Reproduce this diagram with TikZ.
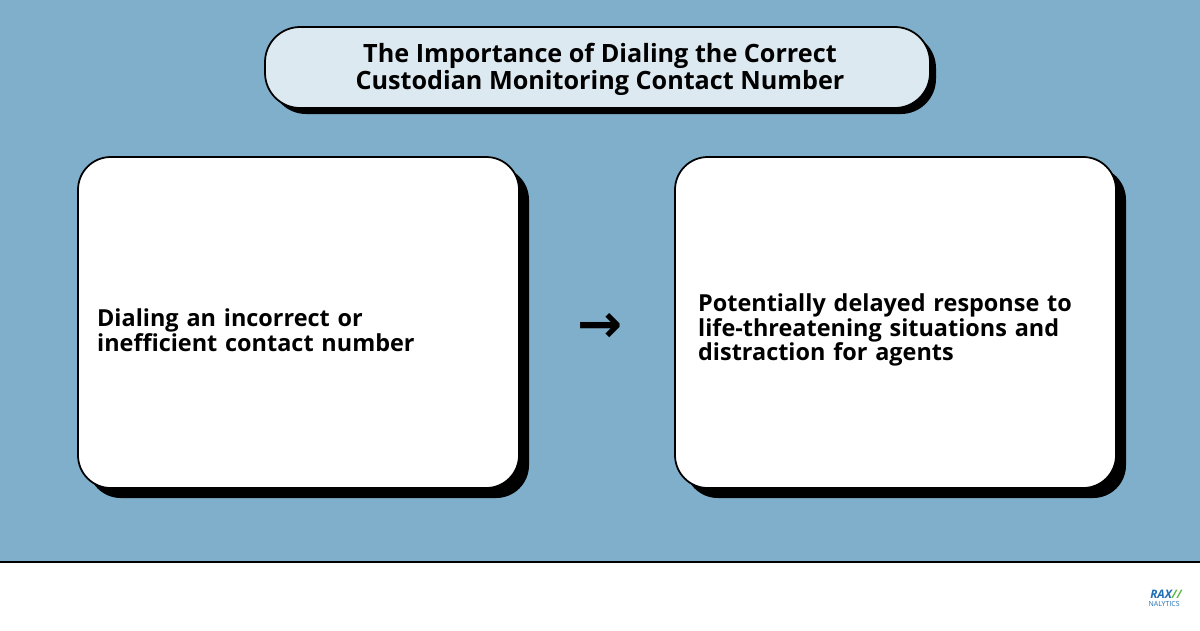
\documentclass[tikz,border=0pt]{standalone}
\usepackage{fontspec}
\setmainfont{Open Sans}
\newfontfamily\symfont{DejaVu Sans}
\usetikzlibrary{positioning}
\definecolor{skyblue}{HTML}{80AFCB}
\definecolor{paleblue}{HTML}{DCE9F0}
\definecolor{raxblue}{HTML}{1F6FB5}
\definecolor{raxgreen}{HTML}{5DB847}
\tikzset{
  card/.style={draw=black, line width=1.5pt, fill=white, rounded corners=28pt},
  shade/.style={fill=black, rounded corners=28pt},
  cardtext/.style={font=\bfseries\fontsize{20}{21}\selectfont, align=left, anchor=west, text width=12.5cm}
}
\begin{document}
\begin{tikzpicture}[x=0.03cm,y=-0.03cm]
    \useasboundingbox (0,0) rectangle (1200,630);
    %BACKGROUND
    \fill[skyblue] (0,0) rectangle (1200,562);
    \draw[line width=1pt] (0,562) -- (1200,562);

    %TITLE
    \fill[black, rounded corners=30pt] (271,33) rectangle (936,114);
    \draw[line width=1.5pt, fill=paleblue, rounded corners=30pt] (265,27) rectangle (930,108);
    \node[font=\bfseries\fontsize{21.5}{23}\selectfont, align=center] (title) at (600,69)
      {The Importance of Dialing the Correct\\Custodian Monitoring Contact Number};

    %BOXES
    \fill[shade] (88,167) rectangle (529,498);
    \draw[card] (78,157) rectangle (519,488);
    \fill[shade] (685,167) rectangle (1126,498);
    \draw[card] (675,157) rectangle (1116,488);

    \node[cardtext] (cause) at (93,330) {Dialing an incorrect or\\inefficient contact number};
    \node[cardtext] (effect) at (694,330) {Potentially delayed response to\\life-threatening situations and\\distraction for agents};
    \node[font=\symfont\bfseries\fontsize{46}{46}\selectfont, inner sep=0] (arrow) at (600,328) {→};

    %LOGO
    \node[font=\bfseries\itshape\fontsize{10}{10}\selectfont, text=raxblue, anchor=east, inner sep=0] (rax) at (1182,594) {RAX\textcolor{raxgreen}{//}};
    \node[font=\fontsize{6}{6}\selectfont, text=raxblue, anchor=north east, inner sep=0] (analytics) at (1180,601) {NALYTICS};
\end{tikzpicture}
\end{document}
